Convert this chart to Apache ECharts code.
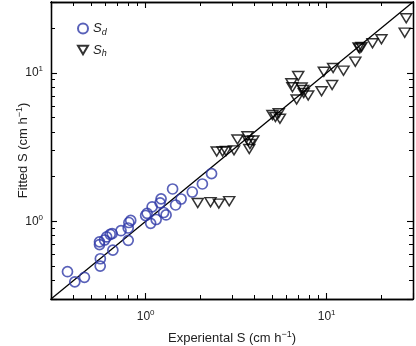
<!DOCTYPE html>
<html>
<head>
<meta charset="utf-8">
<script src="https://cdn.jsdelivr.net/npm/echarts@6/dist/echarts.min.js"></script>
<style>
  html, body { margin: 0; padding: 0; background: #fff; }
  #chart { width: 416px; height: 346px; }
</style>
</head>
<body>
<div id="chart"></div>
<script>
// [experiental S, fitted S] in cm/h
var sdPoints = [
  [0.370, 0.458], [0.406, 0.391], [0.459, 0.420], [0.561, 0.500], [0.562, 0.560],
  [0.556, 0.698], [0.556, 0.728], [0.593, 0.749], [0.609, 0.785], [0.637, 0.818],
  [0.653, 0.828], [0.659, 0.640], [0.731, 0.865], [0.801, 0.745], [0.801, 0.902],
  [0.808, 0.982], [0.827, 1.014], [1.019, 1.133], [1.000, 1.095], [1.066, 0.970],
  [1.086, 1.253], [1.143, 1.029], [1.217, 1.418], [1.202, 1.333], [1.257, 1.147],
  [1.297, 1.104], [1.409, 1.652], [1.464, 1.289], [1.570, 1.414], [1.810, 1.576],
  [2.058, 1.785], [2.313, 2.094]
];
var shPoints = [
  [1.940, 1.329], [2.283, 1.346], [2.537, 1.317], [2.895, 1.367],
  [2.470, 2.954], [2.660, 2.954], [2.780, 2.977], [3.078, 3.009], [3.216, 3.559],
  [3.654, 3.739], [3.690, 3.492], [3.933, 3.504], [3.737, 3.070], [3.771, 3.318],
  [5.018, 5.203], [5.213, 5.042], [5.436, 5.341], [5.520, 4.911],
  [6.826, 6.614], [6.963, 9.523], [6.387, 8.506], [6.470, 7.995], [7.272, 7.972],
  [7.421, 7.666], [7.470, 7.317], [7.907, 7.040],
  [9.375, 7.522], [9.652, 10.18], [10.72, 8.287], [10.86, 10.78], [12.39, 10.34],
  [14.40, 11.89], [15.01, 14.81], [15.58, 14.93], [15.24, 14.59], [17.92, 15.82],
  [20.08, 16.83], [27.00, 18.64], [27.52, 23.30]
];
var oneToOne = [[0.3, 0.3], [30, 30]];
var axisRange = [0.3, 30];
var majorTicks = [1, 10];
var majorLabels = ['10{sup|0}', '10{sup|1}'];
var minorTicks = [0.4, 0.5, 0.6, 0.7, 0.8, 0.9, 2, 3, 4, 5, 6, 7, 8, 9, 20];

var FONT = 'Liberation Sans, Arial, sans-serif';
var logMin = Math.log10(axisRange[0]);
var logMax = Math.log10(axisRange[1]);
var minorLog = minorTicks.map(function (v) { return Math.log10(v); });

function tickLabel(v) {
  for (var i = 0; i < majorTicks.length; i++) {
    if (Math.abs(v - majorTicks[i]) < 1e-6 * majorTicks[i]) return majorLabels[i];
  }
  return '';
}

var labelRich = {
  sup: { fontSize: 8, lineHeight: 8, verticalAlign: 'top', fontFamily: FONT, color: '#222' }
};
var nameRich = {
  sup: { fontSize: 9, lineHeight: 9, verticalAlign: 'top', fontFamily: FONT, color: '#222' }
};

function mainAxis(pos, showLabel, margin) {
  return {
    type: 'log',
    logBase: 10,
    min: axisRange[0],
    max: axisRange[1],
    position: pos,
    axisLine: { show: true, onZero: false, lineStyle: { color: '#000', width: 1.3 } },
    axisTick: { show: true, inside: true, length: 6, lineStyle: { color: '#000', width: 1.1 } },
    axisLabel: {
      show: showLabel,
      margin: margin || 8,
      fontSize: 12,
      fontFamily: FONT,
      color: '#222',
      lineHeight: 16,
      formatter: tickLabel,
      rich: labelRich
    },
    splitLine: { show: false }
  };
}

// minor ticks on a value axis in log10 units, same span as the log axis
function minorAxis(pos) {
  return {
    type: 'value',
    min: logMin,
    max: logMax,
    position: pos,
    axisLine: { show: true, onZero: false, lineStyle: { color: '#000', width: 1.3 } },
    axisTick: { show: true, inside: true, length: 4, customValues: minorLog, lineStyle: { color: '#000', width: 1 } },
    axisLabel: { show: false },
    splitLine: { show: false }
  };
}

var chart = echarts.init(document.getElementById('chart'));

var xBottom = mainAxis('bottom', true, 10);
xBottom.name = 'Experiental S (cm h{sup|\u22121})';
xBottom.nameLocation = 'middle';
xBottom.nameGap = 28;
xBottom.nameTextStyle = { fontSize: 13, fontFamily: FONT, color: '#222', lineHeight: 17, rich: nameRich };

var yLeft = mainAxis('left', true, 8);
yLeft.name = 'Fitted S (cm h{sup|\u22121})';
yLeft.nameLocation = 'middle';
yLeft.nameGap = 19;
yLeft.nameMoveOverlap = false;
yLeft.nameTextStyle = { fontSize: 13, fontFamily: FONT, color: '#222', lineHeight: 17, rich: nameRich };

chart.setOption({
  animation: false,
  backgroundColor: '#fff',
  grid: { left: 51, top: 2, width: 362, height: 297, containLabel: false, outerBoundsMode: 'none' },
  legend: {
    orient: 'vertical',
    left: 72,
    top: 17,
    itemWidth: 10,
    itemHeight: 10,
    itemGap: 7,
    itemTextGap: 9,
    data: ['Sd', 'Sh'],
    formatter: function (name) {
      return '{s|S}{sub|' + name.slice(1) + '}';
    },
    textStyle: {
      fontFamily: FONT,
      color: '#222',
      rich: {
        s: { fontSize: 13, fontStyle: 'italic', fontFamily: FONT, color: '#222', lineHeight: 16 },
        sub: { fontSize: 9, fontStyle: 'italic', fontFamily: FONT, color: '#222', lineHeight: 9, verticalAlign: 'bottom' }
      }
    }
  },
  xAxis: [xBottom, mainAxis('top', false), minorAxis('bottom'), minorAxis('top')],
  yAxis: [yLeft, mainAxis('right', false), minorAxis('left'), minorAxis('right')],
  series: [
    {
      name: 'oneToOne',
      type: 'line',
      data: oneToOne,
      symbol: 'none',
      lineStyle: { color: '#000', width: 1.3 },
      silent: true,
      z: 1
    },
    {
      name: 'Sd',
      type: 'scatter',
      data: sdPoints,
      symbol: 'circle',
      symbolSize: 10,
      itemStyle: { color: 'rgba(0,0,0,0)', borderColor: '#2f39a8', borderWidth: 1.7 },
      z: 3
    },
    {
      name: 'Sh',
      type: 'scatter',
      data: shPoints,
      symbol: 'path://M0,0L10,0L5,8.5Z',
      symbolSize: [11, 9],
      itemStyle: { color: 'rgba(0,0,0,0)', borderColor: '#000', borderWidth: 1.5 },
      z: 3
    }
  ]
});
</script>
</body>
</html>
